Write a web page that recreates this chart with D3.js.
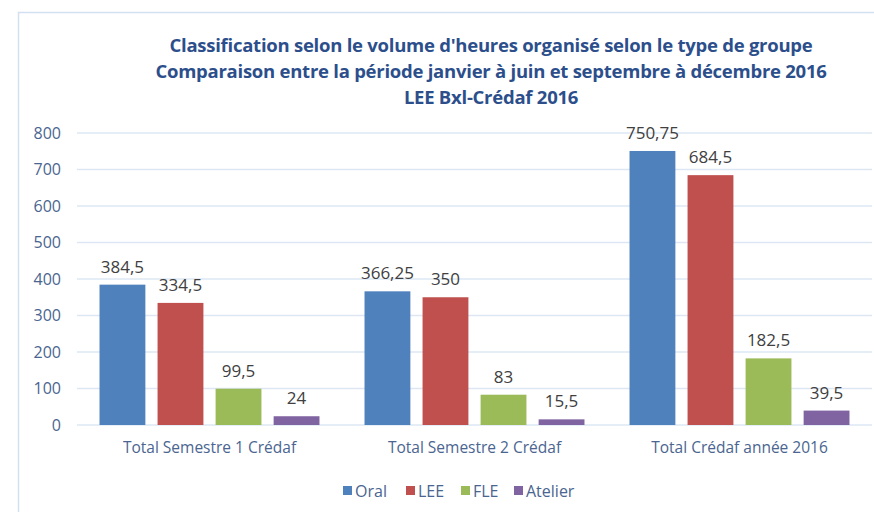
<!DOCTYPE html>
<html>
<head>
<meta charset="utf-8">
<script src="https://cdn.jsdelivr.net/npm/d3@7"></script>
<style>
  body { margin: 0; background: #fff; }
  text { font-family: "Open Sans", "Noto Sans", sans-serif; }
</style>
</head>
<body>
<div id="chart"></div>
<script>
// chart data
var categories = ["Total Semestre 1 Crédaf", "Total Semestre 2 Crédaf", "Total Crédaf année 2016"];
var seriesNames = ["Oral", "LEE", "FLE", "Atelier"];
var oral = [384.5, 366.25, 750.75];
var lee = [334.5, 350, 684.5];
var fle = [99.5, 83, 182.5];
var atelier = [24, 15.5, 39.5];
var yTicks = [0, 100, 200, 300, 400, 500, 600, 700, 800];
var titleLines = [
  "Classification selon le volume d'heures organisé selon le type de groupe",
  "Comparaison entre la période janvier à juin et septembre à décembre 2016",
  "LEE Bxl-Crédaf 2016"
];

var colors = ["#4f81bd", "#c0504d", "#9bbb59", "#8064a2"];
var seriesValues = [oral, lee, fle, atelier];

var svgWidth = 874;
var svgHeight = 512;

var margin = { top: 133, right: 2, bottom: 87, left: 77 };
var width = svgWidth - margin.left - margin.right;
var height = svgHeight - margin.top - margin.bottom;

var svg = d3.select("#chart")
  .append("svg")
  .attr("width", svgWidth)
  .attr("height", svgHeight);

// frame
svg.append("rect")
  .attr("x", 18.5)
  .attr("y", 12.5)
  .attr("width", 900)
  .attr("height", 600)
  .attr("fill", "none")
  .attr("stroke", "#d3e0f1")
  .attr("stroke-width", 1.5);

// title
svg.selectAll(".title")
  .data(titleLines)
  .enter()
  .append("text")
  .attr("class", "title")
  .attr("x", 491)
  .attr("y", (d, i) => 52 + i * 26)
  .attr("text-anchor", "middle")
  .attr("font-size", 18.5)
  .attr("font-weight", "bold")
  .attr("letter-spacing", -0.25)
  .attr("fill", "#2c4f8c")
  .text(d => d);

var chartGroup = svg.append("g")
  .attr("transform", `translate(${margin.left}, ${margin.top})`);

var x0 = d3.scaleBand()
  .domain(categories)
  .range([0, width])
  .paddingInner(0.17)
  .paddingOuter(0.085);

var x1 = d3.scaleBand()
  .domain(seriesNames)
  .range([0, x0.bandwidth()])
  .paddingInner(0.21);

var y = d3.scaleLinear()
  .domain([0, 800])
  .range([height, 0]);

// gridlines
chartGroup.append("g")
  .selectAll("line")
  .data(yTicks)
  .enter()
  .append("line")
  .attr("x1", 0)
  .attr("x2", width)
  .attr("y1", d => y(d))
  .attr("y2", d => y(d))
  .attr("stroke", "#dde7f3")
  .attr("stroke-width", 1.5);

// y axis labels
var leftAxis = d3.axisLeft(y).tickValues(yTicks).tickSize(0).tickPadding(16);
var yAxisG = chartGroup.append("g").call(leftAxis);
yAxisG.select(".domain").remove();
yAxisG.selectAll("text")
  .attr("font-size", 16)
  .attr("fill", "#4a6590");

// category labels
var bottomAxis = d3.axisBottom(x0).tickSize(0).tickPadding(17);
var xAxisG = chartGroup.append("g")
  .attr("transform", `translate(0, ${height})`)
  .call(bottomAxis);
xAxisG.select(".domain").remove();
xAxisG.selectAll("text")
  .attr("font-size", 15.5)
  .attr("fill", "#4a6590");

// build rows for bars
var rows = [];
categories.forEach(function(cat, ci) {
  seriesNames.forEach(function(s, si) {
    rows.push({ cat: cat, series: s, value: seriesValues[si][ci], color: colors[si] });
  });
});

var barGroup = chartGroup.selectAll(".bar")
  .data(rows)
  .enter();

barGroup.append("rect")
  .attr("class", "bar")
  .attr("x", d => x0(d.cat) + x1(d.series))
  .attr("y", d => y(d.value))
  .attr("width", x1.bandwidth())
  .attr("height", d => height - y(d.value))
  .attr("fill", d => d.color);

barGroup.append("text")
  .attr("x", d => x0(d.cat) + x1(d.series) + x1.bandwidth() / 2)
  .attr("y", d => y(d.value) - 12)
  .attr("text-anchor", "middle")
  .attr("font-size", 17)
  .attr("fill", "#404040")
  .text(d => String(d.value).replace(".", ","));

// legend
var legendX = [343, 406, 461, 514];
var legend = svg.selectAll(".legend")
  .data(seriesNames)
  .enter()
  .append("g")
  .attr("class", "legend")
  .attr("transform", (d, i) => `translate(${legendX[i]}, 491)`);

legend.append("rect")
  .attr("x", 0)
  .attr("y", -5)
  .attr("width", 9)
  .attr("height", 9)
  .attr("fill", (d, i) => colors[i]);

legend.append("text")
  .attr("x", 12)
  .attr("y", 5.5)
  .attr("font-size", 16)
  .attr("fill", "#4a6590")
  .text(d => d);
</script>
</body>
</html>
